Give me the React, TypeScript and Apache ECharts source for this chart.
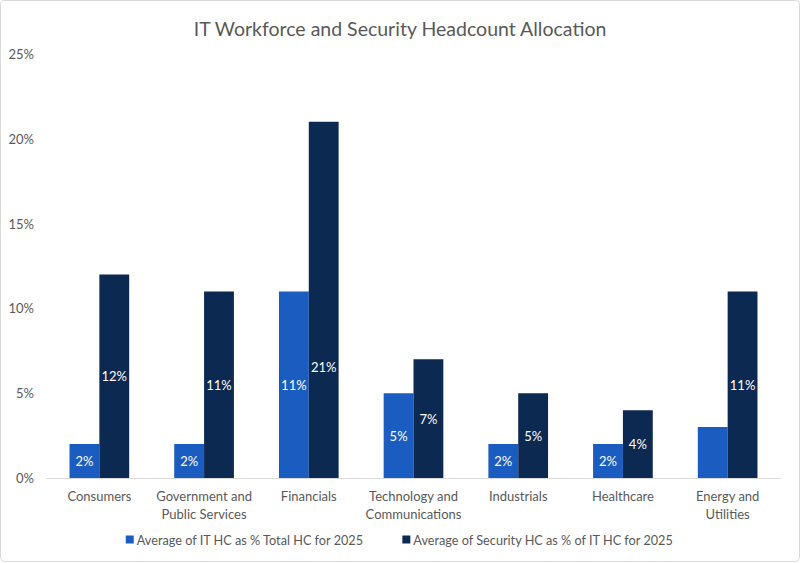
import React, { useEffect, useRef } from "react";
import * as echarts from "echarts";

const categories = [
  "Consumers",
  "Government and\nPublic Services",
  "Financials",
  "Technology and\nCommunications",
  "Industrials",
  "Healthcare",
  "Energy and\nUtilities",
];
const itHcShare = [2, 2, 11, 5, 2, 2, 3];
const securityHcShare = [12, 11, 21, 7, 5, 4, 11];
const hiddenLabelsIt = [false, false, false, false, false, false, true];
const seriesNames = [
  "Average of IT HC as % Total HC for 2025",
  "Average of Security HC as % of IT HC for 2025",
];

const FONT = "Lato, 'Open Sans', sans-serif";

export default function App() {
  const ref = useRef<HTMLDivElement>(null);
  useEffect(() => {
    document.body.style.margin = "0";
    const chart = echarts.init(ref.current!, undefined, { renderer: "svg" });
    const labelBase = {
      show: true,
      position: "inside",
      formatter: "{c}%",
      color: "#ffffff",
      fontFamily: FONT,
      fontSize: 13,
    };
    chart.setOption({
      animation: false,
      backgroundColor: "#ffffff",
      textStyle: { fontFamily: FONT },
      graphic: [
        {
          type: "rect",
          shape: { x: 0.5, y: 0.5, width: 799, height: 561, r: 4 },
          style: { fill: "none", stroke: "#d9d9d9", lineWidth: 1 },
          silent: true,
          z: -1,
        },
      ],
      title: {
        text: "IT Workforce and Security Headcount Allocation",
        left: "center",
        top: 13,
        textStyle: { fontFamily: FONT, fontSize: 19.5, fontWeight: "normal", color: "#595959" },
      },
      legend: {
        bottom: 12,
        left: "center",
        itemWidth: 8,
        itemHeight: 8,
        itemGap: 38,
        icon: "rect",
        textStyle: { fontFamily: FONT, fontSize: 12.7, color: "#595959", padding: [0, 0, 0, -2] },
        data: seriesNames,
      },
      grid: { left: 47, right: 20, top: 54, bottom: 85 },
      xAxis: {
        type: "category",
        data: categories,
        axisLine: { lineStyle: { color: "#d9d9d9" } },
        axisTick: { show: false },
        axisLabel: {
          fontFamily: FONT,
          fontSize: 13,
          color: "#595959",
          lineHeight: 18,
          margin: 9,
          interval: 0,
        },
      },
      yAxis: {
        type: "value",
        min: 0,
        max: 25,
        interval: 5,
        axisLine: { show: false },
        axisTick: { show: false },
        splitLine: { show: false },
        axisLabel: {
          fontFamily: FONT,
          fontSize: 13,
          color: "#595959",
          margin: 13,
          formatter: "{value}%",
        },
      },
      series: [
        {
          name: seriesNames[0],
          type: "bar",
          data: itHcShare.map((v, i) => ({
            value: v,
            label: { show: !hiddenLabelsIt[i] },
          })),
          itemStyle: { color: "#1a5cbf" },
          barGap: "0%",
          barCategoryGap: "43%",
          label: labelBase,
        },
        {
          name: seriesNames[1],
          type: "bar",
          data: securityHcShare.map((v, i) =>
            i === 2 ? { value: v, label: { offset: [0, 67] } } : v
          ),
          itemStyle: { color: "#0c2952" },
          barGap: "0%",
          barCategoryGap: "43%",
          label: labelBase,
        },
      ],
    });
    return () => chart.dispose();
  }, []);
  return (
    <div
      ref={ref}
      style={{ position: "absolute", left: 0, top: 0, width: 800, height: 563 }}
    />
  );
}
